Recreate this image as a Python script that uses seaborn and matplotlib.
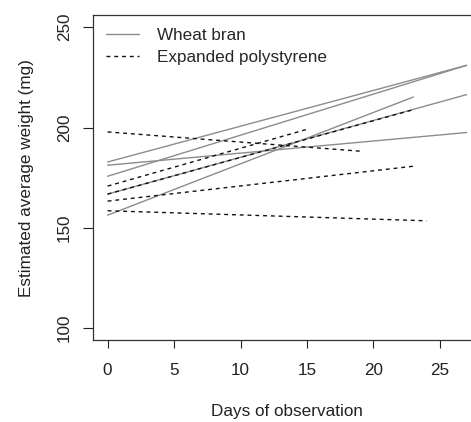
import pandas as pd
import matplotlib
matplotlib.use("Agg")
import matplotlib.pyplot as plt
import seaborn as sns

# Each line: weight at day 0 and at the last day of observation
materials = ["Wheat bran"] * 5 + ["Expanded polystyrene"] * 5
start_weight = [182.8, 175.7, 181.2, 166.8, 156.3,
                197.8, 170.8, 166.8, 163.3, 158.5]
end_day = [27, 27, 27, 27, 23,
           19, 15, 23, 23, 24]
end_weight = [231.0, 231.0, 197.5, 216.4, 215.2,
              188.2, 199.1, 208.9, 180.7, 153.5]

# long format, two points per line
rows = []
for i in range(len(materials)):
    rows.append({"line": i, "material": materials[i], "day": 0, "weight": start_weight[i]})
    rows.append({"line": i, "material": materials[i], "day": end_day[i], "weight": end_weight[i]})
df = pd.DataFrame(rows)

sns.set_theme(style="ticks")
plt.rcParams["font.family"] = ["Liberation Sans", "DejaVu Sans"]

fs = 12.3
fig = plt.figure(figsize=(4.71, 4.22), dpi=100)
ax = fig.add_axes([0.198, 0.194, 0.823, 0.770])

sns.lineplot(
    data=df, x="day", y="weight",
    hue="material", style="material", units="line", estimator=None,
    palette={"Wheat bran": "#8c8c8c", "Expanded polystyrene": "#111111"},
    dashes={"Wheat bran": "", "Expanded polystyrene": (2.8, 2.8)},
    linewidth=1.0, ax=ax,
)

ax.set_xlim(-1.08, 28.08)
ax.set_ylim(94, 256)
ax.set_xticks([0, 5, 10, 15, 20, 25])
ax.set_yticks([100, 150, 200, 250])
ax.tick_params(axis="x", length=6, width=0.8, pad=10.5, labelsize=fs, colors="#222222")
ax.tick_params(axis="y", length=7, width=0.8, pad=8.5, labelsize=fs, colors="#222222")
for lab in ax.get_yticklabels():
    lab.set_rotation(90)
    lab.set_va("center")

for side in ["left", "top", "bottom", "right"]:
    ax.spines[side].set_visible(True)
    ax.spines[side].set_color("#333333")
    ax.spines[side].set_linewidth(0.9)

ax.set_xlabel("Days of observation", fontsize=fs, labelpad=19, color="#222222")
ax.set_ylabel("Estimated average weight (mg)", fontsize=fs, labelpad=16.5, color="#222222")

handles, labels = ax.get_legend_handles_labels()
keep = [(h, l) for h, l in zip(handles, labels) if l in ("Wheat bran", "Expanded polystyrene")]
ax.legend([h for h, l in keep], [l for h, l in keep],
          loc="upper left", frameon=False, fontsize=fs,
          handlelength=1.9, handletextpad=1.1, labelspacing=0.4,
          borderaxespad=0.45, borderpad=0.3)

fig.savefig("out.png", dpi=100)
